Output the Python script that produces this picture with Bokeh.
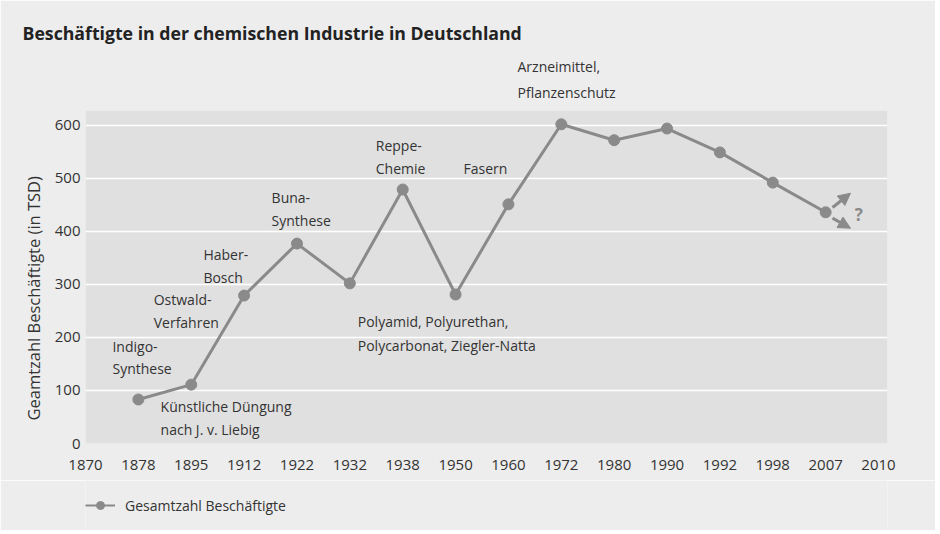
from bokeh.plotting import figure
from bokeh.layouts import column
from bokeh.models import (Label, Legend, LegendItem, Arrow, NormalHead, Title,
                          ColumnDataSource, FixedTicker, Range1d)
from bokeh.embed import file_html
from bokeh.resources import INLINE

# ---------------- data ----------------
tick_years = ["1870", "1878", "1895", "1912", "1922", "1932", "1938", "1950",
              "1960", "1972", "1980", "1990", "1992", "1998", "2007", "2010"]
point_years = ["1878", "1895", "1912", "1922", "1932", "1938", "1950",
               "1960", "1972", "1980", "1990", "1992", "1998", "2007"]
employees = [83, 111, 279, 377, 302, 479, 281, 451, 602, 572, 594, 549, 492, 436]
y_ticks = [0, 100, 200, 300, 400, 500, 600]

ann_text = ["Indigo-", "Synthese", "Ostwald-", "Verfahren", "Haber-", "Bosch",
            "Künstliche Düngung", "nach J. v. Liebig", "Buna-", "Synthese",
            "Polyamid, Polyurethan,", "Polycarbonat, Ziegler-Natta",
            "Reppe-", "Chemie", "Fasern"]
ann_x = [0.51, 0.51, 1.29, 1.29, 2.23, 2.23, 1.42, 1.42, 3.52, 3.52,
         5.15, 5.15, 5.49, 5.49, 7.15]
ann_y = [183, 141, 271, 228, 356, 313, 70, 27, 464, 421, 230, 185,
         562, 519, 519]
top_note = ["Pflanzenschutz", "Arzneimittel,"]
series_name = "Gesamtzahl Beschäftigte"

FONT = "Open Sans"
GRAY = "#8a8a8a"
TEXT = "#333333"
BG = "#ededed"

x_idx = [tick_years.index(y) for y in point_years]
src = ColumnDataSource(dict(x=x_idx, y=employees))

p = figure(width=935, height=480, output_backend="svg", toolbar_location=None,
           title=None, x_range=Range1d(0, 15.17), y_range=Range1d(0, 628),
           min_border_left=85, min_border_right=48, min_border_top=110,
           min_border_bottom=37)
p.background_fill_color = "#e0e0e0"
p.border_fill_color = BG
p.outline_line_color = None

line_r = p.line("x", "y", source=src, line_color=GRAY, line_width=3)
dot_r = p.scatter("x", "y", source=src, size=11, fill_color=GRAY, line_color=GRAY)

# axes
p.xaxis.ticker = FixedTicker(ticks=list(range(len(tick_years))))
p.xaxis.major_label_overrides = {i: t for i, t in enumerate(tick_years)}
p.yaxis.ticker = FixedTicker(ticks=y_ticks)
for ax in (p.xaxis, p.yaxis):
    ax.axis_line_color = None
    ax.major_tick_line_color = None
    ax.minor_tick_line_color = None
    ax.major_tick_out = 0
    ax.major_tick_in = 0
    ax.minor_tick_out = 0
    ax.major_label_text_font = FONT
    ax.major_label_text_font_size = "15px"
    ax.major_label_text_color = TEXT
p.xaxis.major_label_standoff = 16
p.yaxis.major_label_standoff = 5

p.xgrid.visible = False
p.ygrid.ticker = FixedTicker(ticks=y_ticks)
p.ygrid.grid_line_color = "white"
p.ygrid.grid_line_width = 1.5

# y axis title (left panel)
p.add_layout(Title(text="Geamtzahl Beschäftigte (in TSD)", align="left", offset=23,
                   text_font=FONT, text_font_size="16.5px", text_font_style="normal",
                   text_color=TEXT, standoff=14), "left")

# notes above the plot area and the chart title (above panel, inner to outer)
for t, so in zip(top_note, (17, -6)):
    p.add_layout(Title(text=t, align="left", offset=432, text_font=FONT,
                       text_font_size="14px", text_font_style="normal",
                       text_color=TEXT, standoff=so), "above")
p.add_layout(Title(text="Beschäftigte in der chemischen Industrie in Deutschland",
                   align="left", offset=-63, text_font=FONT, text_font_size="17.7px",
                   text_font_style="bold", text_color="#222222", standoff=25), "above")

# annotations inside the plot area
for t, xx, yy in zip(ann_text, ann_x, ann_y):
    p.add_layout(Label(x=xx, y=yy, text=t, text_align="left", text_baseline="alphabetic",
                       text_font=FONT, text_font_size="14px", text_color=TEXT))

# trend arrows
for ys, ye in ((445, 472), (425, 406)):
    p.add_layout(Arrow(end=NormalHead(size=12, fill_color=GRAY, line_color=GRAY),
                       x_start=14.13, y_start=ys, x_end=14.47, y_end=ye,
                       line_color=GRAY, line_width=3))
p.add_layout(Label(x=14.55, y=432, text="?", text_font=FONT, text_font_size="17px",
                   text_font_style="bold", text_color=GRAY, text_baseline="alphabetic"))

# legend strip below the chart
q = figure(width=935, height=50, output_backend="svg", toolbar_location=None,
           title=None, x_range=Range1d(100, 101), y_range=Range1d(100, 101),
           min_border=0, x_axis_type=None, y_axis_type=None)
q.background_fill_color = BG
q.border_fill_color = BG
q.outline_line_color = None
q.xgrid.visible = False
q.ygrid.visible = False
ql = q.line("x", "y", source=src, line_color=GRAY, line_width=2)
qd = q.scatter("x", "y", source=src, size=9, fill_color=GRAY, line_color=GRAY)
legend = Legend(items=[LegendItem(label=series_name, renderers=[ql, qd])],
                location=(0, 15), orientation="horizontal", background_fill_alpha=0,
                border_line_alpha=0, padding=0, margin=0, glyph_width=30, glyph_height=20,
                label_standoff=10, label_text_font=FONT, label_text_font_size="14px",
                label_text_color=TEXT)
q.add_layout(legend)

page = column(p, q, spacing=0)
open("out.html", "w").write(file_html(page, INLINE))
